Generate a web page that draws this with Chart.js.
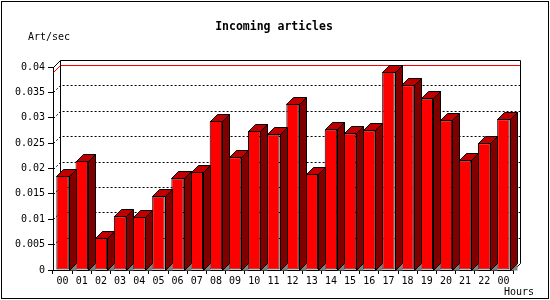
<!DOCTYPE html>
<html>
<head>
<meta charset="utf-8">
<script src="https://cdn.jsdelivr.net/npm/chart.js"></script>
<style>
  html, body { margin: 0; padding: 0; background: #fff; }
  #wrap { width: 550px; height: 300px; }
</style>
</head>
<body>
<div id="wrap"><canvas id="chart" width="550" height="300"></canvas></div>
<script>
// hour labels and measured incoming articles per second
const hours = ['00','01','02','03','04','05','06','07','08','09','10','11',
               '12','13','14','15','16','17','18','19','20','21','22','00'];
const artPerSec = [0.0185, 0.0215, 0.0064, 0.0106, 0.0105, 0.0145, 0.0181, 0.0193,
                   0.0294, 0.0222, 0.0274, 0.0267, 0.0328, 0.0189, 0.0277, 0.0269,
                   0.0275, 0.0390, 0.0364, 0.0338, 0.0295, 0.0216, 0.0250, 0.0297];
const yMin = 0, yMax = 0.04, yStep = 0.005;

const DEPTH = 7;
const FONT = '"DejaVu Sans Mono", "Liberation Mono", monospace';

const px = v => Math.round(v) + 0.5;

function poly(ctx, pts, fill, stroke) {
  ctx.beginPath();
  ctx.moveTo(pts[0][0], pts[0][1]);
  for (let i = 1; i < pts.length; i++) ctx.lineTo(pts[i][0], pts[i][1]);
  if (fill) { ctx.closePath(); ctx.fillStyle = fill; ctx.fill(); }
  if (stroke) { ctx.strokeStyle = stroke; ctx.stroke(); }
}

// draws the gd-style 3d frame, back plane grid and the bar tops/sides
const gd3d = {
  id: 'gd3d',
  beforeDraw(chart) {
    const {ctx, width, height} = chart;
    ctx.save();
    ctx.fillStyle = '#fff';
    ctx.fillRect(0, 0, width, height);
    ctx.strokeStyle = '#000';
    ctx.lineWidth = 1;
    ctx.strokeRect(1.5, 1.5, width - 3, height - 3);

    ctx.fillStyle = '#000';
    ctx.textBaseline = 'middle';
    ctx.font = 'bold 11.5px ' + FONT;
    ctx.textAlign = 'center';
    ctx.fillText('Incoming articles', 274, 27);
    ctx.font = '10px ' + FONT;
    ctx.textAlign = 'left';
    ctx.fillText('Art/sec', 28, 37);
    ctx.fillText('Hours', 504, 292);
    ctx.restore();
  },
  beforeDatasetsDraw(chart) {
    const {ctx, chartArea: a, scales: {y}} = chart;
    const L = px(a.left), R = px(a.right), T = px(a.top), B = px(a.bottom);
    const D = DEPTH;
    ctx.save();
    ctx.lineWidth = 1;

    // dotted grid lines on the back wall
    ctx.setLineDash([2, 2]);
    for (let v = yMin + yStep; v < yMax - yStep / 2; v += yStep) {
      const p = px(y.getPixelForValue(v));
      poly(ctx, [[L, p], [L + D, p - D], [R + D, p - D]], null, '#000');
    }
    ctx.setLineDash([]);

    // red line at the maximum value
    const m = px(y.getPixelForValue(Math.max(...artPerSec)));
    poly(ctx, [[L, m], [L + D, m - D], [R + D, m - D]], null, '#f00');

    // back frame
    poly(ctx, [[L, T], [L + D, T - D], [R + D, T - D], [R + D, B - D], [R, B]], null, '#000');
    poly(ctx, [[L + D, T - D], [L + D, B - D]], null, '#000');
    ctx.restore();
  },
  afterDatasetsDraw(chart) {
    const {ctx} = chart;
    const D = DEPTH;
    ctx.save();
    ctx.lineWidth = 1;
    chart.getDatasetMeta(0).data.forEach(bar => {
      const {x, y, width, base} = bar.getProps(['x', 'y', 'width', 'base'], true);
      const l = px(x - width / 2), r = px(x + width / 2), t = px(y), b = px(base);
      poly(ctx, [[r, b], [r + D, b - D], [r + D, b]], '#808080', null);
      poly(ctx, [[l, t], [l + D, t - D], [r + D, t - D], [r, t]], '#c00000', '#000');
      poly(ctx, [[r, t], [r + D, t - D], [r + D, b - D], [r, b]], '#800000', '#000');
    });
    ctx.restore();
  }
};

new Chart(document.getElementById('chart'), {
  type: 'bar',
  data: {
    labels: hours,
    datasets: [{
      label: 'Art/sec',
      data: artPerSec,
      backgroundColor: '#ff0000',
      borderColor: '#000',
      borderWidth: 1,
      borderSkipped: false,
      barPercentage: 0.65,
      categoryPercentage: 1
    }]
  },
  options: {
    responsive: false,
    animation: false,
    devicePixelRatio: 1,
    layout: { padding: { top: 67, right: 37, left: 0, bottom: 0 } },
    plugins: {
      legend: { display: false },
      title: { display: false },
      tooltip: { enabled: false }
    },
    scales: {
      x: {
        offset: true,
        afterFit: s => { s.height = 30; },
        grid: { display: true, drawOnChartArea: false, offset: true, tickLength: 4, color: '#000' },
        border: { display: true, color: '#000' },
        ticks: { color: '#000', font: { family: FONT, size: 10 }, autoSkip: false, maxRotation: 0, padding: 1 }
      },
      y: {
        min: yMin,
        max: yMax,
        afterFit: s => { s.width = 53; },
        grid: { display: true, drawOnChartArea: false, tickLength: 5, color: '#000' },
        border: { display: true, color: '#000' },
        ticks: {
          stepSize: yStep,
          color: '#000',
          padding: 3,
          font: { family: FONT, size: 10 },
          callback: v => String(+v.toFixed(3))
        }
      }
    }
  },
  plugins: [gd3d]
});
</script>
</body>
</html>
